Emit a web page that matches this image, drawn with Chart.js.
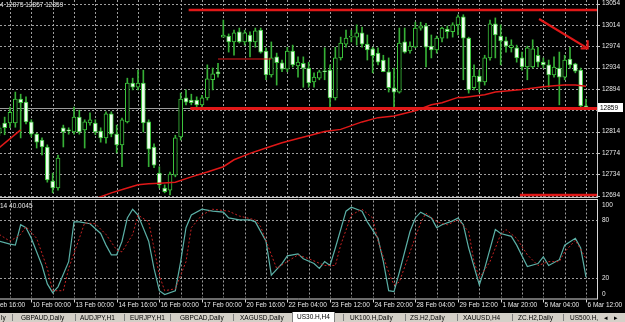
<!DOCTYPE html>
<html>
<head>
<meta charset="utf-8">
<script src="https://cdn.jsdelivr.net/npm/chart.js@4.4.1/dist/chart.umd.min.js"></script>
<style>
  html, body { margin:0; padding:0; background:#000; width:625px; height:322px; overflow:hidden; }
  #wrap { position:relative; width:625px; height:322px; }
  #mainChart { position:absolute; left:0; top:0; }
  #oscChart { position:absolute; left:0; top:199px; }
  #tabs { position:absolute; left:0; top:313px; width:625px; height:9px; background:#d4d0c8;
          font:6.5px "Liberation Sans", Arial, sans-serif; color:#000; }
  #tabs span { position:absolute; top:0; line-height:9px; white-space:nowrap; }
  #tabs i { position:absolute; top:1px; width:1px; height:7px; background:#808080; }
  #tabs .on { background:#fff; top:-1px; height:10px; line-height:10px; padding:0 4px; border-left:1px solid #808080; border-right:1px solid #808080; }
</style>
</head>
<body>
<div id="wrap">
  <canvas id="mainChart" width="625" height="198"></canvas>
  <canvas id="oscChart" width="625" height="114"></canvas>
  <div id="tabs"></div>
</div>
<script>
// US30.H,H4 candles, oldest first (the last one is 6 Mar 12:00)
const openP  = [12811,12830,12830,12830,12875,12869,12832,12809,12798,12785,12721,12708,12821,12817,12813,12841,12817,12830,12830,12815,
                12802,12847,12809,12789,12832,12905,12897,12905,12832,12785,12736,12708,12704,12732,12804,12877,12873,12873,12864,12877,
                12911,12926,12991,12993,12982,13001,12982,12995,12982,13004,12965,12920,12954,12943,12931,12965,12937,12942,12933,12907,
                12914,12927,12929,12877,12952,12978,12991,12991,12999,12978,12969,12961,12948,12926,12896,12888,12982,12965,12972,13008,
                13012,12974,12967,12989,13006,13001,13014,13029,12989,12896,12918,12907,12952,13016,12993,12984,12971,12971,12952,12935,
                12935,12957,12944,12939,12920,12933,12916,12950,12941,12929,12862];
const highP  = [12826,12841,12860,12888,12884,12879,12836,12811,12802,12789,12736,12770,12826,12821,12860,12854,12836,12849,12836,12821,
                12851,12851,12826,12839,12914,12914,12929,12929,12836,12791,12748,12714,12738,12807,12886,12892,12884,12879,12882,12939,
                12933,12942,13023,12997,13004,13008,13004,13001,13008,13008,12971,12982,12961,12948,12972,12976,12954,12954,12944,12924,
                12929,12971,12939,12972,12991,13004,13004,13014,13010,12995,12972,12971,12957,12952,12933,13008,13008,12982,13019,13019,
                13017,12995,12993,13010,13012,13018,13033,13033,12991,12939,12929,12957,13023,13027,13014,12991,12986,12976,12963,12974,
                12986,12972,12952,12948,12954,12963,12957,12972,12942,12933,12875];
const lowP   = [12806,12808,12821,12822,12802,12828,12804,12783,12770,12719,12699,12704,12785,12809,12809,12809,12783,12826,12808,12794,
                12792,12804,12774,12748,12830,12892,12892,12813,12748,12746,12708,12699,12695,12729,12798,12864,12864,12860,12858,12873,
                12892,12916,12991,12963,12957,12980,12976,12954,12972,12961,12911,12916,12901,12926,12926,12935,12916,12897,12897,12897,
                12911,12911,12860,12873,12948,12972,12982,12976,12972,12948,12924,12939,12926,12888,12858,12886,12961,12961,12971,13004,
                12935,12952,12961,12982,12989,12991,12995,12911,12886,12892,12888,12901,12948,12952,12939,12963,12963,12944,12929,12911,
                12933,12935,12933,12897,12916,12864,12911,12933,12924,12860,12857];
const closeP = [12821,12821,12850,12875,12868,12832,12809,12794,12785,12723,12708,12764,12813,12815,12841,12813,12832,12836,12813,12802,
                12847,12809,12789,12836,12905,12897,12905,12830,12781,12751,12714,12701,12734,12802,12875,12869,12868,12864,12877,12913,
                12922,12922,12995,12982,12999,12982,12999,12982,13003,12963,12920,12952,12943,12931,12965,12939,12944,12933,12905,12916,
                12926,12926,12877,12952,12980,12989,12993,12999,12978,12967,12956,12944,12926,12896,12888,12980,12963,12974,13008,13012,
                12972,12967,12989,13008,13001,13014,13029,12989,12892,12918,12907,12952,13016,12995,12984,12974,12976,12952,12935,12971,
                12969,12944,12939,12920,12935,12916,12948,12939,12927,12862,12859];

// moving average, bar index / price
const maBars   = [16,18,21,24,26,28,30,33,36,39,42,44,47,50,53,56,58,61,64,68,71,74,78,81,83,86,87,91,93,98,102,104,106,108,110];
const maValues = [12680,12688,12699,12708,12714,12716,12717,12719,12729,12738,12748,12761,12773,12783,12793,12801,12806,12814,12818,
                  12832,12840,12843,12853,12864,12868,12878,12878,12883,12888,12893,12898,12900,12901,12901,12899];
const maLeftBars = [0, 4];
const maLeftValues = [12784, 12817];

// drawn objects: bar index range and price
const resistBars = [35.5, 112.2], resistPrice = 13042;
const midBars = [41, 51], midPrice = 12950;
const supportBars = [35.8, 112.2], supportPrice = 12857;
const lowBars = [97.6, 112.2], lowPrice = 12695;
const arrowBars = [101.2, 110.3], arrowPrices = [13025, 12970];
const arrowHeadBars = [109.0, 110.3, 110.3], arrowHeadPrices = [12970, 12970, 12985];
const bidPrice = 12859;

// stochastic lines
const stochMainBars = [0,2,3,4,5,6,8,9,10,11,13,14,15,17,19,20,21,22,23,24,25,26,28,29,30,31,33,34,35,36,38,40,42,43,45,47,48,50,51,53,
                       54,56,57,59,60,61,62,63,65,66,68,69,71,72,73,74,75,77,78,79,81,82,83,85,86,87,88,90,91,93,94,96,97,99,101,102,103,105,106,108,109,110];
const stochMain = [58,55,54,75,72,61,33,14,5,11,37,78,78,76,66,54,44,44,58,82,91,85,58,30,7,3,7,37,72,85,91,89,88,82,80,80,78,58,23,35,
                   43,45,40,35,30,37,33,51,89,93,89,78,61,37,7,6,26,68,82,88,82,72,75,79,82,75,51,13,30,70,66,63,54,32,35,42,33,39,54,61,51,21];
const stochSigBars = [0,2,4,5,7,9,10,12,13,15,16,18,20,22,23,25,26,28,29,30,31,33,35,36,38,40,43,45,48,49,51,52,54,56,58,61,63,64,66,68,
                      70,71,73,74,75,77,79,80,82,84,86,88,89,90,92,94,95,97,99,101,103,105,106,108,110];
const stochSig = [65,58,65,73,61,30,7,7,30,61,77,76,65,49,47,65,85,78,51,23,7,9,37,72,85,91,89,84,80,73,44,30,37,44,40,33,33,54,85,91,
                  82,58,26,13,16,47,77,87,78,75,80,68,37,20,37,65,70,61,44,33,37,37,47,59,40];

const priceTicks = [13054,13014,12974,12934,12894,12854,12814,12774,12734,12694];
const gridBars = [2,6,10,14,18,22,26,30,34,38,42,46,50,54,58,62,66,70,74,78,82,86,90,94,98,102,106,110];
const timeBars = [-2,6,14,22,30,38,46,54,62,70,78,86,94,102,110];
const timeLabels = ['8 Feb 16:00','10 Feb 00:00','13 Feb 00:00','14 Feb 16:00','16 Feb 00:00','17 Feb 00:00','20 Feb 16:00',
                    '22 Feb 04:00','23 Feb 12:00','24 Feb 20:00','28 Feb 04:00','29 Feb 12:00','1 Mar 20:00','5 Mar 04:00','6 Mar 12:00'];
const stochLevels = [80, 20];
const stochLabels = [100, 80, 20, 0];

const tabNames = ['ly','GBPAUD,Daily','AUDJPY,H1','EURJPY,H1','GBPCAD,Daily','XAGUSD,Daily','US30.H,H4','UK100.H,Daily','ZS.H2,Daily','XAUUSD,H4','ZC.H2,Daily','US500.H,'];
const tabLeft = [1,21,80,130,180,240,292,350,410,463,518,570];
const tabSeps = [12,75,124,170,233,343,405,457,512,563];

const X_MIN = 0.125, X_MAX = 112.06;
const FONT = '6.5px "Liberation Sans", Arial, sans-serif';
const GREEN = '#3cc43c', WICK = '#36b036', RED = '#e01818';

function pts(xs, ys) { return xs.map((x, i) => ({x: x, y: Array.isArray(ys) ? ys[i] : ys})); }

function dashGridX(ctx, chart) {
  const a = chart.chartArea, xs = chart.scales.x;
  gridBars.forEach(b => {
    const px = Math.round(xs.getPixelForValue(b)) + 0.5;
    ctx.beginPath(); ctx.moveTo(px, a.top); ctx.lineTo(px, a.bottom); ctx.stroke();
  });
}

const mainDecor = {
  id: 'mainDecor',
  beforeDatasetsDraw(chart) {
    const {ctx, chartArea: a, scales: {y}} = chart;
    ctx.save();
    ctx.strokeStyle = 'rgba(175,175,175,0.9)';
    ctx.lineWidth = 1;
    ctx.setLineDash([2, 2]);
    dashGridX(ctx, chart);
    priceTicks.forEach(p => {
      const py = Math.round(y.getPixelForValue(p)) + 0.5;
      ctx.beginPath(); ctx.moveTo(a.left, py); ctx.lineTo(a.right, py); ctx.stroke();
    });
    ctx.setLineDash([]);
    const by = Math.round(y.getPixelForValue(bidPrice)) + 0.5;
    ctx.strokeStyle = '#9c9c9c';
    ctx.beginPath(); ctx.moveTo(a.left, by); ctx.lineTo(a.right, by); ctx.stroke();
    ctx.restore();
  },
  afterDraw(chart) {
    const {ctx, chartArea: a, scales: {y}} = chart;
    ctx.save();
    ctx.strokeStyle = '#c8c8c8';
    ctx.lineWidth = 1;
    ctx.beginPath(); ctx.moveTo(a.right + 0.5, 0); ctx.lineTo(a.right + 0.5, a.bottom + 1); ctx.stroke();
    ctx.beginPath(); ctx.moveTo(0, a.bottom + 0.5); ctx.lineTo(a.right, a.bottom + 0.5); ctx.stroke();
    ctx.font = FONT;
    ctx.textBaseline = 'middle';
    ctx.fillStyle = '#e8e8e8';
    priceTicks.forEach(p => {
      if (p === 12854) return;
      const py = y.getPixelForValue(p);
      ctx.beginPath(); ctx.moveTo(a.right, Math.round(py) + 0.5); ctx.lineTo(a.right + 3, Math.round(py) + 0.5); ctx.stroke();
      ctx.fillText(String(p), a.right + 5, py);
    });
    const by = y.getPixelForValue(bidPrice);
    ctx.fillStyle = '#fff';
    ctx.fillRect(a.right + 1, by - 4.5, 25, 9);
    ctx.fillStyle = '#000';
    ctx.fillText(String(bidPrice), a.right + 3, by + 0.5);
    ctx.fillStyle = '#e8e8e8';
    ctx.fillText('4 12875 12857 12859', 0, 5);
    ctx.restore();
  }
};

const oscDecor = {
  id: 'oscDecor',
  beforeDatasetsDraw(chart) {
    const {ctx, chartArea: a, scales: {y}} = chart;
    ctx.save();
    ctx.strokeStyle = 'rgba(175,175,175,0.9)';
    ctx.lineWidth = 1;
    ctx.setLineDash([2, 2]);
    dashGridX(ctx, chart);
    stochLevels.forEach(v => {
      const py = Math.round(y.getPixelForValue(v)) + 0.5;
      ctx.beginPath(); ctx.moveTo(a.left, py); ctx.lineTo(a.right, py); ctx.stroke();
    });
    ctx.restore();
  },
  afterDraw(chart) {
    const {ctx, chartArea: a, scales: {x, y}} = chart;
    ctx.save();
    ctx.strokeStyle = '#d8d8d8';
    ctx.lineWidth = 1;
    ctx.beginPath(); ctx.moveTo(0, 0.5); ctx.lineTo(a.right, 0.5); ctx.stroke();
    ctx.beginPath(); ctx.moveTo(0, a.bottom + 1.5); ctx.lineTo(a.right, a.bottom + 1.5); ctx.stroke();
    ctx.beginPath(); ctx.moveTo(a.right + 0.5, 0); ctx.lineTo(a.right + 0.5, a.bottom + 2); ctx.stroke();
    ctx.font = FONT;
    ctx.fillStyle = '#e8e8e8';
    ctx.textBaseline = 'middle';
    stochLabels.forEach(v => {
      const py = Math.min(Math.max(y.getPixelForValue(v), a.top + 5), a.bottom - 3);
      ctx.fillText(String(v), a.right + 5, py);
    });
    ctx.fillText('14 40.0045', 0, a.top + 6);
    timeBars.forEach((b, i) => {
      const px = Math.round(x.getPixelForValue(b)) + 0.5;
      ctx.beginPath(); ctx.moveTo(px, a.bottom + 2); ctx.lineTo(px, a.bottom + 5); ctx.stroke();
      ctx.fillText(timeLabels[i], px + 1, a.bottom + 8);
    });
    ctx.restore();
  }
};

const bodyColors = openP.map((o, i) => closeP[i] < o ? '#f0fff0' : '#000');

new Chart(document.getElementById('mainChart'), {
  type: 'bar',
  data: {
    datasets: [
      { type: 'line', data: pts(maBars, maValues), borderColor: RED, borderWidth: 1.5, pointRadius: 0, order: 0 },
      { type: 'line', data: pts(maLeftBars, maLeftValues), borderColor: RED, borderWidth: 1.5, pointRadius: 0, order: 0 },
      { type: 'line', data: pts(resistBars, resistPrice), borderColor: RED, borderWidth: 2.5, pointRadius: 0, order: 0 },
      { type: 'line', data: pts(midBars, midPrice), borderColor: RED, borderWidth: 1.2, pointRadius: 0, order: 0 },
      { type: 'line', data: pts(supportBars, supportPrice), borderColor: RED, borderWidth: 3, pointRadius: 0, order: 0 },
      { type: 'line', data: pts(lowBars, lowPrice), borderColor: RED, borderWidth: 2.5, pointRadius: 0, order: 0 },
      { type: 'line', data: pts(arrowBars, arrowPrices), borderColor: RED, borderWidth: 2.2, pointRadius: 0, order: 0 },
      { type: 'line', data: pts(arrowHeadBars, arrowHeadPrices), borderColor: RED, borderWidth: 2.2, pointRadius: 0, order: 0 },
      { data: openP.map((o, i) => ({x: i, y: [lowP[i], highP[i]]})), backgroundColor: WICK, barThickness: 1,
        grouped: false, borderWidth: 0, order: 3 },
      { data: openP.map((o, i) => ({x: i, y: [o, closeP[i]]})), backgroundColor: bodyColors, borderColor: GREEN,
        borderWidth: 1, borderSkipped: false, barThickness: 4, minBarLength: 1, grouped: false, order: 2 }
    ]
  },
  options: {
    responsive: false, animation: false, events: [],
    layout: { padding: { left: 0, top: 0, right: 28, bottom: 1 } },
    scales: {
      x: { type: 'linear', display: false, min: X_MIN, max: X_MAX, offset: false },
      y: { type: 'linear', display: false, min: 12691.2, max: 13060.6 }
    },
    plugins: { legend: { display: false }, tooltip: { enabled: false } }
  },
  plugins: [mainDecor]
});

new Chart(document.getElementById('oscChart'), {
  type: 'line',
  data: {
    datasets: [
      { data: pts(stochSigBars, stochSig), borderColor: '#c42222', borderWidth: 1, borderDash: [2, 2], pointRadius: 0 },
      { data: pts(stochMainBars, stochMain), borderColor: '#5bb0a6', borderWidth: 1.2, pointRadius: 0 }
    ]
  },
  options: {
    responsive: false, animation: false, events: [],
    layout: { padding: { left: 0, top: 1.5, right: 28, bottom: 15.5 } },
    scales: {
      x: { type: 'linear', display: false, min: X_MIN, max: X_MAX },
      y: { type: 'linear', display: false, min: 0, max: 100 }
    },
    plugins: { legend: { display: false }, tooltip: { enabled: false } }
  },
  plugins: [oscDecor]
});

// terminal tab strip
let tabHtml = '';
tabNames.forEach((t, i) => {
  tabHtml += `<span class="${t === 'US30.H,H4' ? 'on' : ''}" style="left:${tabLeft[i]}px">${t}</span>`;
});
tabSeps.forEach(s => { tabHtml += `<i style="left:${s}px"></i>`; });
tabHtml += `<span style="left:604px">&#9666;</span><span style="left:614px">&#9656;</span>`;
document.getElementById('tabs').innerHTML = tabHtml;
</script>
</body>
</html>
